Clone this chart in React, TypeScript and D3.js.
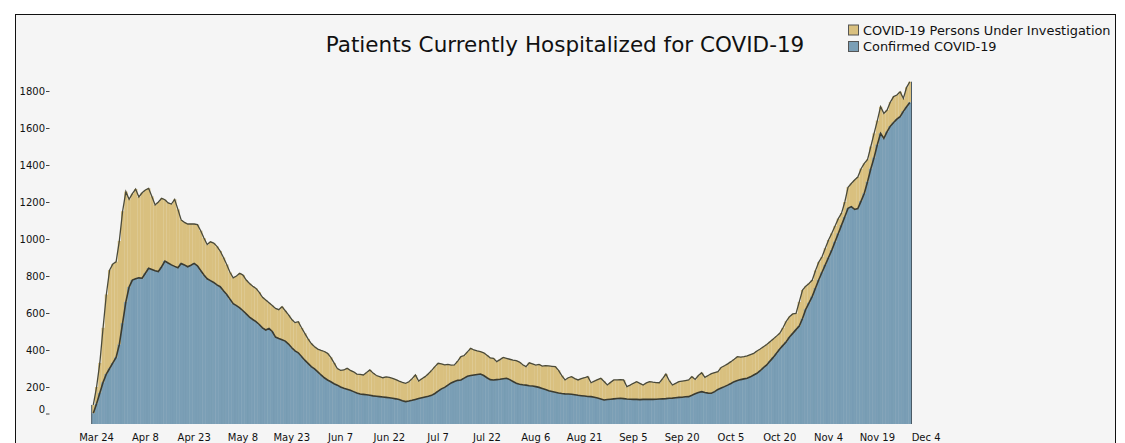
import { useRef, useEffect } from "react";
import * as d3 from "d3";

// Daily census, Mar 23 .. Nov 29 (2020)
const START_DATE = Date.UTC(2020, 2, 23);

const confirmed = [
  58, 110, 168, 225, 270, 300, 330, 360, 430, 545,
  660, 740, 778, 785, 790, 788, 815, 842, 835, 828,
  824, 850, 881, 870, 860, 852, 845, 868, 860, 850,
  858, 868, 855, 830, 805, 785, 775, 765, 752, 742,
  720, 700, 675, 650, 640, 628, 612, 595, 578, 565,
  553, 538, 520, 508, 516, 500, 470, 462, 455, 448,
  432, 412, 395, 385, 365, 345, 328, 310, 298, 282,
  265, 250, 238, 228, 218, 210, 200, 193, 188, 182,
  175, 168, 162, 160, 158, 155, 152, 150, 148, 146,
  144, 142, 139, 136, 132, 126, 121, 124, 128, 133,
  138, 142, 146, 150, 155, 165, 178, 190, 198, 210,
  222, 230, 236, 238, 248, 258, 262, 265, 268, 270,
  262, 250, 240, 238, 240, 242, 245, 247, 240, 230,
  220, 215, 212, 210, 207, 205, 202, 198, 192, 186,
  180, 176, 172, 168, 165, 163, 162, 161, 158, 155,
  153, 151, 149, 148, 145, 140, 135, 130, 132, 134,
  136, 138, 139, 137, 135, 134, 133, 133, 132, 133,
  133, 134, 133, 134, 135, 136, 137, 139, 140, 142,
  144, 145, 147, 148, 155, 163, 170, 175, 170, 167,
  166, 175, 187, 195, 202, 210, 219, 229, 235, 240,
  244, 247, 255, 265, 274, 288, 305, 319, 340, 360,
  382, 405, 425, 445, 470, 490, 510, 530, 570, 620,
  655, 690, 735, 780, 820, 860, 900, 940, 985, 1030,
  1075, 1120, 1166, 1175, 1160, 1165, 1205, 1247, 1310, 1380,
  1440, 1510, 1571, 1544, 1580, 1610, 1630, 1648, 1661, 1690, 1715, 1738,
];

const personsUnderInvestigation = [
  45, 90, 162, 295, 430, 532, 535, 517, 560, 605,
  596, 475, 467, 485, 437, 462, 450, 432, 395, 356,
  376, 370, 331, 325, 329, 362, 315, 235, 230, 231,
  224, 213, 223, 215, 200, 185, 210, 213, 208, 193,
  180, 162, 145, 140, 160, 187, 193, 183, 182, 180,
  180, 174, 165, 162, 139, 140, 155, 156, 179, 164,
  158, 153, 153, 168, 155, 145, 132, 125, 120, 123,
  133, 142, 144, 132, 112, 90, 90, 99, 113, 108,
  107, 102, 106, 105, 120, 137, 123, 112, 108, 104,
  111, 110, 108, 104, 100, 99, 99, 104, 117, 132,
  94, 103, 110, 122, 135, 145, 150, 135, 122, 112,
  96, 89, 104, 126, 122, 132, 147, 135, 127, 121,
  123, 122, 118, 117, 97, 106, 115, 108, 110, 115,
  122, 120, 108, 100, 124, 120, 116, 124, 121, 130,
  134, 136, 138, 122, 97, 75, 88, 95, 87, 83,
  92, 99, 107, 75, 87, 100, 112, 100, 79, 91,
  102, 100, 101, 101, 67, 76, 87, 96, 88, 78,
  89, 95, 93, 90, 88, 109, 133, 96, 71, 78,
  85, 87, 88, 90, 101, 78, 92, 102, 82, 95,
  106, 103, 96, 111, 113, 115, 118, 121, 129, 122,
  120, 121, 120, 117, 121, 117, 113, 111, 105, 100,
  93, 85, 95, 110, 110, 105, 88, 130, 154, 125,
  105, 88, 95, 95, 84, 90, 95, 91, 85, 80,
  65, 80, 114, 125, 159, 170, 175, 162, 120, 120,
  131, 130, 144, 135, 117, 130, 140, 130, 135, 70, 105, 112,
];

const xTickLabels = [
  "Mar 24", "Apr 8", "Apr 23", "May 8", "May 23", "Jun 7", "Jun 22", "Jul 7", "Jul 22",
  "Aug 6", "Aug 21", "Sep 5", "Sep 20", "Oct 5", "Oct 20", "Nov 4", "Nov 19", "Dec 4",
];
const yTicks = [0, 200, 400, 600, 800, 1000, 1200, 1400, 1600, 1800];

const seriesNames = ["COVID-19 Persons Under Investigation", "Confirmed COVID-19"];

const CONFIRMED_COLOR = "#7b9fb6";
const PUI_COLOR = "#d9c07f";
const OUTLINE = "#3b3b30";
const FONT = "'DejaVu Sans', Verdana, sans-serif";

export default function App() {
  const svgRef = useRef<SVGSVGElement>(null);

  useEffect(() => {
    if (!svgRef.current) return;
    const svg = d3.select(svgRef.current);
    svg.selectAll("*").remove();

    const width = 1125;
    const height = 443;
    const DAY = 86400000;

    const rows = confirmed.map((c, i) => ({
      date: new Date(START_DATE + i * DAY),
      confirmed: c,
      total: c + personsUnderInvestigation[i],
    }));

    // frame
    svg.append("rect")
      .attr("x", 15.5).attr("y", 14.5)
      .attr("width", 1100).attr("height", 460)
      .attr("fill", "#f5f5f5")
      .attr("stroke", "#111").attr("stroke-width", 1);

    // ── Scales ────────────────────────────────────────────
    const first = rows[0].date.getTime();
    const last = rows[rows.length - 1].date.getTime();
    const xScale = d3.scaleUtc()
      .domain([new Date(first - DAY / 2), new Date(last + DAY / 2)])
      .range([91.7, 911.5]);
    const yScale = d3.scaleLinear().domain([0, 1800]).range([424, 91]);
    const barW = xScale(new Date(first + DAY)) - xScale(new Date(first));

    // ── Bars ──────────────────────────────────────────────
    const g = svg.append("g");
    rows.forEach((r) => {
      const x0 = xScale(r.date) - barW / 2;
      g.append("rect")
        .attr("x", x0).attr("y", yScale(r.total))
        .attr("width", barW + 0.15)
        .attr("height", yScale(r.confirmed) - yScale(r.total))
        .attr("fill", PUI_COLOR);
      g.append("rect")
        .attr("x", x0).attr("y", yScale(r.confirmed))
        .attr("width", barW + 0.15)
        .attr("height", yScale(0) - yScale(r.confirmed))
        .attr("fill", CONFIRMED_COLOR);
      // faint stripe between bars
      g.append("line")
        .attr("x1", x0).attr("x2", x0)
        .attr("y1", yScale(r.confirmed)).attr("y2", yScale(0))
        .attr("stroke", "#6f93aa").attr("stroke-width", 0.35);
    });

    // ── Outlines ─────────────────────────────────────────
    const line = (acc: (r: typeof rows[number]) => number) =>
      d3.line<typeof rows[number]>()
        .x((r) => xScale(r.date))
        .y((r) => yScale(acc(r)));

    svg.append("path")
      .datum(rows)
      .attr("d", line((r) => r.confirmed))
      .attr("fill", "none").attr("stroke", OUTLINE).attr("stroke-width", 1.6);
    svg.append("path")
      .datum(rows)
      .attr("d", line((r) => r.total))
      .attr("fill", "none").attr("stroke", "#4a4a3a").attr("stroke-width", 1.3);

    const leftX = xScale(rows[0].date) - barW / 2;
    const rightX = xScale(rows[rows.length - 1].date) + barW / 2;
    svg.append("line")
      .attr("x1", leftX).attr("x2", leftX)
      .attr("y1", yScale(rows[0].total)).attr("y2", yScale(0))
      .attr("stroke", "#4a5a66").attr("stroke-width", 1);
    svg.append("line")
      .attr("x1", rightX).attr("x2", rightX)
      .attr("y1", yScale(rows[rows.length - 1].total)).attr("y2", yScale(0))
      .attr("stroke", "#4a5a66").attr("stroke-width", 1);

    // ── Y axis ───────────────────────────────────────────
    yTicks.forEach((t) => {
      const y = t === 0 ? yScale(t) - 15 : yScale(t);
      svg.append("text")
        .attr("x", 45).attr("y", y)
        .attr("dy", "0.35em")
        .attr("text-anchor", "end")
        .attr("font-family", FONT).attr("font-size", 10)
        .attr("fill", "#111")
        .text(String(t));
      const ty = t === 0 ? y + 5 : y + 0.5;
      svg.append("line")
        .attr("x1", 46).attr("x2", 49.5)
        .attr("y1", ty).attr("y2", ty)
        .attr("stroke", "#444").attr("stroke-width", 1);
    });

    // ── X axis ───────────────────────────────────────────
    const parse = d3.utcParse("%b %d %Y");
    xTickLabels.forEach((lab) => {
      const d = parse(`${lab} 2020`)!;
      svg.append("text")
        .attr("x", xScale(d)).attr("y", 437)
        .attr("dy", "0.35em")
        .attr("text-anchor", "middle")
        .attr("font-family", FONT).attr("font-size", 10)
        .attr("fill", "#111")
        .text(lab);
    });

    // ── Title ────────────────────────────────────────────
    svg.append("text")
      .attr("x", 565).attr("y", 44)
      .attr("dy", "0.35em")
      .attr("text-anchor", "middle")
      .attr("font-family", FONT).attr("font-size", 21.5)
      .attr("fill", "#111")
      .text("Patients Currently Hospitalized for COVID-19");

    // ── Legend ───────────────────────────────────────────
    [PUI_COLOR, CONFIRMED_COLOR].forEach((c, i) => {
      const y = 30 + i * 16.5;
      svg.append("rect")
        .attr("x", 848.5).attr("y", y - 5)
        .attr("width", 10).attr("height", 10)
        .attr("fill", c).attr("stroke", "#555").attr("stroke-width", 1);
      svg.append("text")
        .attr("x", 863).attr("y", y)
        .attr("dy", "0.35em")
        .attr("font-family", FONT).attr("font-size", 12.9)
        .attr("fill", "#111")
        .text(seriesNames[i]);
    });

    svg.attr("width", width).attr("height", height);
  }, []);

  return (
    <svg
      ref={svgRef}
      width={1125}
      height={443}
      style={{ position: "absolute", left: 0, top: 0, background: "#fff" }}
    />
  );
}
